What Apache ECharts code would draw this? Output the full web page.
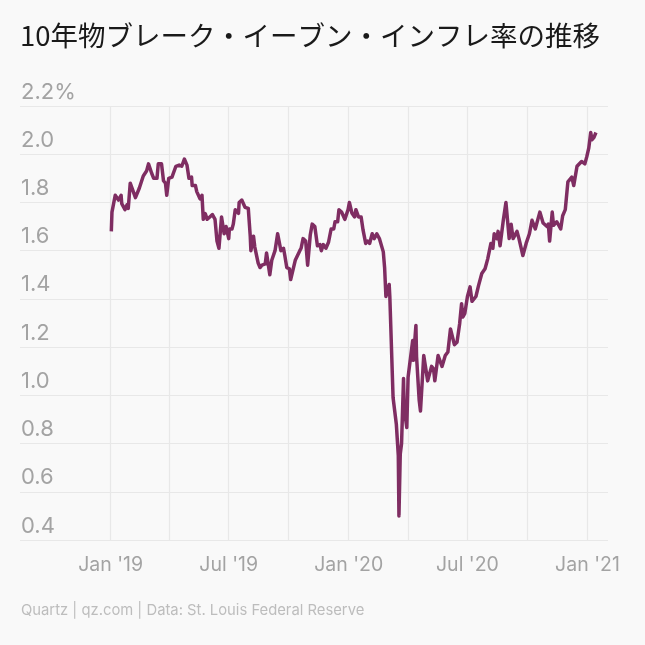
<!DOCTYPE html>
<html><head><meta charset="utf-8">
<style>html,body{margin:0;padding:0;background:#f9f9f9}#c{width:645px;height:645px}</style>
<script src="https://cdn.jsdelivr.net/npm/echarts@6/dist/echarts.min.js"></script>
</head><body><div id="c"></div>
<script>
const titleText = '10年物ブレーク・イーブン・インフレ率の推移';
const sourceText = 'Quartz | qz.com | Data: St. Louis Federal Reserve';
const yTicks = [0.4,0.6,0.8,1.0,1.2,1.4,1.6,1.8,2.0,2.2];
const gridDates = ['2019-01-01','2019-04-01','2019-07-01','2019-10-01','2020-01-01','2020-04-01','2020-07-01','2020-10-01','2021-01-01'];
const labelDates = ['2019-01-01','2019-07-01','2020-01-01','2020-07-01','2021-01-01'];
const labelTexts = ["Jan '19","Jul '19","Jan '20","Jul '20","Jan '21"];
const dayOffsets = [1,2,7,10,12,16,17,20,22,25,27,30,33,38,41,44,47,50,55,58,63,66,71,73,78,81,84,86,89,94,96,100,105,109,113,117,120,124,125,130,132,137,140,142,
145,148,152,156,160,163,166,170,174,177,181,182,186,188,191,196,197,201,206,211,214,215,219,221,226,229,232,237,239,244,247,252,256,259,261,265,267,270,274,276,279,283,286,290,
292,295,299,302,306,309,313,317,321,323,326,330,334,338,342,344,348,350,354,359,364,366,370,374,376,380,384,387,391,394,397,401,404,408,412,414,418,420,422,424,427,428,
433,438,441,442,444,446,449,450,454,456,463,464,468,469,473,475,480,486,492,495,497,502,508,513,517,521,524,527,531,
535,538,540,543,547,551,554,560,564,569,574,578,583,586,588,592,594,597,602,606,611,614,617,623,626,632,637,642,
646,651,658,663,669,671,673,677,679,684,690,693,697,701,704,707,710,715,722,727,730,733,736,738,741,744];
const values = [1.68,1.76,1.83,1.83,1.81,1.83,1.795,1.80,1.77,1.79,1.775,1.88,1.875,1.82,1.82,1.86,1.86,1.91,1.93,1.96,1.92,1.90,1.90,1.96,1.96,1.89,1.88,1.83,1.90,1.905,1.905,1.95,1.955,1.95,1.98,1.955,1.90,1.905,1.87,1.87,1.845,1.815,1.83,1.73,
1.754,1.73,1.74,1.75,1.73,1.64,1.61,1.74,1.67,1.70,1.65,1.69,1.69,1.71,1.77,1.755,1.80,1.81,1.78,1.775,1.66,1.60,1.66,1.615,1.55,1.53,1.54,1.545,1.59,1.50,1.56,1.60,1.67,1.67,1.60,1.61,1.58,1.53,1.525,1.48,1.48,1.56,1.56,1.60,
1.61,1.65,1.64,1.54,1.665,1.71,1.70,1.62,1.625,1.60,1.625,1.61,1.635,1.69,1.69,1.72,1.72,1.77,1.76,1.73,1.77,1.80,1.755,1.74,1.77,1.74,1.74,1.685,1.63,1.64,1.63,1.67,1.65,1.67,1.65,1.65,1.595,1.53,1.41,1.41,1.46,1.41,
0.99,0.88,0.75,0.50,0.757,0.80,1.07,0.945,0.867,1.075,1.227,1.145,1.29,1.16,0.98,0.935,1.165,1.06,1.12,1.11,1.06,1.165,1.12,1.165,1.18,1.275,1.275,1.21,1.22,
1.296,1.38,1.325,1.34,1.41,1.45,1.39,1.41,1.455,1.505,1.525,1.565,1.63,1.61,1.67,1.65,1.68,1.62,1.726,1.80,1.65,1.71,1.65,1.68,1.65,1.58,1.63,1.67,
1.726,1.69,1.76,1.715,1.70,1.71,1.64,1.76,1.705,1.72,1.69,1.745,1.77,1.885,1.88,1.905,1.87,1.95,1.97,1.96,1.99,2.025,2.09,2.06,2.07,2.09];

const DAY = 86400000;
const origin = Date.UTC(2019,0,1);
const ts = s => new Date(s + 'T00:00:00Z').getTime();
const points = dayOffsets.map((d,i) => [origin + d*DAY, values[i]]);
const labelFont = 'Inter, "Liberation Sans", sans-serif';

const chart = echarts.init(document.getElementById('c'), null, {renderer:'canvas'});
chart.setOption({
  animation:false,
  backgroundColor:'#f9f9f9',
  title:[
    {text:titleText,left:15,top:17,textStyle:{fontFamily:'"Noto Sans CJK JP"',fontSize:27.5,fontWeight:'normal',color:'#1a1a1a'}},
    {text:sourceText,left:16,top:598,textStyle:{fontFamily:labelFont,fontSize:14.8,fontWeight:'normal',color:'#bdbdbd'}}
  ],
  grid:{left:20,right:37,top:106,bottom:105,containLabel:false},
  xAxis:{
    type:'value',
    min:Date.UTC(2018,7,15),
    max:Date.UTC(2021,1,1,12),
    axisLine:{show:false},
    axisTick:{show:false,customValues:gridDates.map(ts)},
    splitLine:{show:true,lineStyle:{color:'#e8e8e8',width:1.2}},
    axisLabel:{
      customValues:labelDates.map(ts),
      formatter:v=>labelTexts[labelDates.map(ts).indexOf(v)]||'',
      color:'#a3a3a3',fontFamily:labelFont,fontSize:19.5,margin:15,hideOverlap:false
    }
  },
  yAxis:{
    type:'value',min:0.4,max:2.2,interval:0.2,
    axisLine:{show:false},axisTick:{show:false},
    splitLine:{show:true,lineStyle:{color:'#e8e8e8',width:1.2}},
    axisLabel:{
      inside:true,margin:1,verticalAlign:'bottom',padding:[0,0,3,0],
      formatter:v=>{const i=yTicks.findIndex(t=>Math.abs(t-v)<1e-6);const s=yTicks[i].toFixed(1);return i===yTicks.length-1?s+'%':s;},
      color:'#a3a3a3',fontFamily:labelFont,fontSize:22
    }
  },
  series:[{
    type:'line',data:points,showSymbol:false,smooth:false,
    lineStyle:{color:'#7f2d62',width:3.5,join:'round'},
    itemStyle:{color:'#7f2d62'}
  }]
});
</script></body></html>
